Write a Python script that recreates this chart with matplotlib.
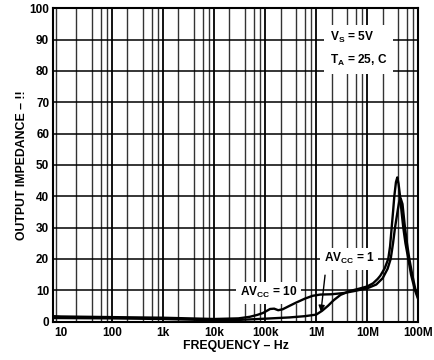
import numpy as np
import matplotlib
matplotlib.use("Agg")
import matplotlib.pyplot as plt
from matplotlib.ticker import FixedLocator, NullFormatter

plt.rcParams['font.family'] = ['Liberation Sans', 'DejaVu Sans']
plt.rcParams['font.weight'] = 'bold'
plt.rcParams['axes.labelweight'] = 'bold'
plt.rcParams['mathtext.fontset'] = 'custom'
plt.rcParams['mathtext.rm'] = 'Liberation Sans:bold'
plt.rcParams['mathtext.it'] = 'Liberation Sans:bold'
plt.rcParams['mathtext.bf'] = 'Liberation Sans:bold'

# output impedance vs frequency, two closed-loop gains
freq_av1 = [7.1, 10, 100, 1e3, 1e4, 3e4, 1e5, 3e5, 6e5, 1e6, 1.3e6, 1.7e6,
            2.2e6, 3e6, 4.5e6, 7e6, 1e7, 1.3e7, 1.6e7, 1.8e7, 2.2e7, 2.58e7,
            2.8e7, 3.01e7, 3.2e7, 3.39e7, 3.65e7, 3.88e7, 4.1e7, 4.39e7,
            4.7e7, 5.08e7, 5.6e7, 6.37e7, 7.2e7, 8.6e7, 1e8]
z_av1 = [1.1, 1.1, 1.0, 0.8, 0.4, 0.5, 0.9, 1.3, 1.7, 2.2, 3.4, 5.0,
         6.8, 8.5, 9.7, 10.5, 11.2, 12.2, 13.6, 14.6, 17.0, 20.0,
         24.0, 30.0, 35.0, 40.0, 44.5, 46.0, 44.0, 40.0,
         35.0, 30.0, 25.0, 20.0, 15.0, 10.0, 7.0]

freq_av10 = [7.1, 10, 100, 1e3, 1e4, 3e4, 5e4, 7e4, 9e4, 1.05e5, 1.25e5,
             1.5e5, 1.8e5, 2.2e5, 3e5, 4e5, 6e5, 8.5e5, 1.2e6, 2e6, 3.5e6,
             5.5e6, 1e7, 1.5e7, 2e7, 2.5e7, 2.88e7, 3.2e7, 3.5e7, 4e7,
             4.2e7, 4.52e7, 4.9e7, 5.48e7, 6e7, 6.67e7, 7.6e7, 8.7e7, 1e8]
z_av10 = [1.7, 1.6, 1.4, 1.2, 0.8, 1.0, 1.5, 2.1, 2.7, 3.3, 4.0,
          4.1, 3.6, 3.9, 5.0, 6.0, 7.3, 8.2, 8.6, 8.7, 9.1,
          9.7, 10.6, 11.8, 13.8, 16.8, 20.0, 25.0, 30.0, 36.0,
          38.0, 39.3, 37.5, 30.0, 25.0, 20.0, 15.0, 10.5, 7.5]

x_ticks = [10, 100, 1e3, 1e4, 1e5, 1e6, 1e7, 1e8]
x_tick_labels = ['10', '100', '1k', '10k', '100k', '1M', '10M', '100M']
y_ticks = list(range(0, 101, 10))

fig = plt.figure(figsize=(4.35, 3.6), dpi=100)
ax = fig.add_axes([53.3 / 435, (360 - 321.5) / 360, 365 / 435, 313.2 / 360])

ax.set_xscale('log')
ax.set_xlim(7.08, 1e8)
ax.set_ylim(0, 100)

ax.set_xticks(x_ticks)
ax.set_xticklabels(x_tick_labels)
minor = [m * d for d in [1, 10, 100, 1e3, 1e4, 1e5, 1e6, 1e7] for m in (2, 4, 6, 8)]
ax.xaxis.set_minor_locator(FixedLocator(minor))
ax.xaxis.set_minor_formatter(NullFormatter())
ax.set_yticks(y_ticks)

ax.tick_params(which='both', length=0, labelsize=8.5)
ax.tick_params(axis='x', pad=4)
ax.tick_params(axis='y', pad=3)

ax.grid(which='major', axis='x', color='black', lw=1.3, zorder=1)
ax.grid(which='minor', axis='x', color='#333333', lw=1.0, zorder=1)
ax.grid(which='major', axis='y', color='black', lw=1.1, zorder=1)
ax.set_axisbelow(True)
# no gridline at the 10 Hz label, the grid starts at the edge
ax.xaxis.get_gridlines()[0].set_visible(False)

for s in ax.spines.values():
    s.set_linewidth(1.5)

ax.plot(freq_av1, z_av1, color='black', lw=1.7, zorder=4)
ax.plot(freq_av10, z_av10, color='black', lw=1.7, zorder=4)

box = dict(facecolor='white', edgecolor='none', pad=2.5)
ax.text(3.2e4, 9.2, 'AV$_{CC}$ = 10', fontsize=8.6, va='center', ha='left',
        bbox=box, zorder=3)
ax.text(1.4e6, 20, 'AV$_{CC}$ = 1', fontsize=8.6, va='center', ha='left',
        bbox=box, zorder=3)
ax.annotate('', xy=(1.24e6, 3.1), xytext=(1.49e6, 14.8),
            arrowprops=dict(arrowstyle='-|>', color='black', lw=1.0,
                            mutation_scale=9, shrinkA=0, shrinkB=0),
            zorder=5)

ax.text(0.758, 0.93, 'V$_S$ = 5V\nT$_A$ = 25, C', transform=ax.transAxes,
        fontsize=8.6, va='top', ha='left', linespacing=1.7,
        bbox=dict(facecolor='white', edgecolor='none', pad=4), zorder=3)

ax.set_xlabel('FREQUENCY – Hz', fontsize=8.8, labelpad=1)
ax.set_ylabel('OUTPUT IMPEDANCE – !!', fontsize=8.8, labelpad=1)

fig.savefig('out.png', dpi=100)
